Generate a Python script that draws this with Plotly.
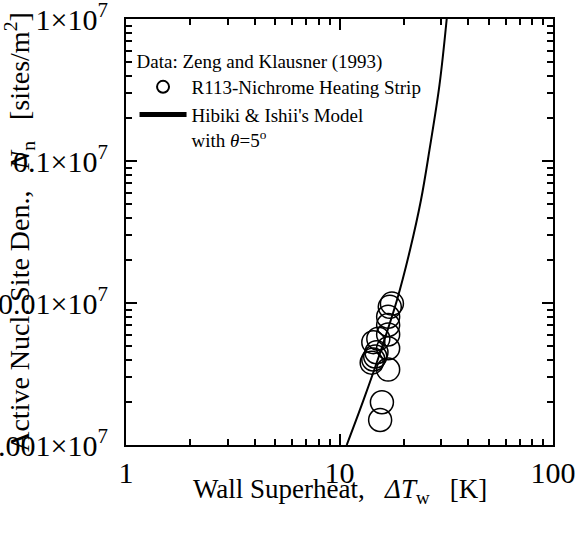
import plotly.graph_objects as go

# Measured active nucleation site density (Zeng & Klausner, 1993)
superheat_data = [15.5, 15.8, 16.9, 14.15, 14.4, 14.7, 14.9, 16.9, 14.4, 15.2,
                  16.9, 16.9, 16.9, 17.2, 17.6]
site_density_data = [1.5e4, 2.0e4, 3.4e4, 3.8e4, 4.0e4, 4.2e4, 4.5e4, 4.8e4, 5.3e4,
                     5.6e4, 6.0e4, 7.0e4, 8.0e4, 9.4e4, 9.9e4]

# Hibiki & Ishii model curve, theta = 5 deg
superheat_model = [10.81, 12.95, 15.65, 18.59, 21.39, 24.08, 26.39, 29.4, 31.78]
site_density_model = [1.0e4, 2.07e4, 4.67e4, 1.05e5, 2.36e5, 5.31e5, 1.196e6, 3.43e6, 1.0e7]

# minor ticks at 2..9 within each decade
x_minor = [m * 10 ** d for d in range(0, 2) for m in range(2, 10)]
y_minor = [m * 10 ** d for d in range(4, 7) for m in range(2, 10)]

X_RANGE = [0, 2.00001]
Y_RANGE = [3.99999, 7.00001]

SERIF = "Liberation Serif"
NB = "\u00a0"

fig = go.Figure()
fig.add_trace(go.Scatter(
    x=superheat_data, y=site_density_data, mode="markers",
    name="R113-Nichrome Heating Strip",
    marker=dict(symbol="circle-open", size=23, color="black", line=dict(width=1.5, color="black")),
))
fig.add_trace(go.Scatter(
    x=superheat_model, y=site_density_model, mode="lines",
    name="Hibiki & Ishii's Model<br>with <i>θ</i>=5<sup>o</sup>",
    line=dict(color="black", width=2, shape="spline"),
))
# empty trace that carries the opposite-side frame axes (major ticks mirrored back)
fig.add_trace(go.Scatter(x=[], y=[], xaxis="x2", yaxis="y2", showlegend=False, hoverinfo="skip"))

# decade ticks with plotly's own power-of-ten labels
frame = dict(
    type="log", showline=True, linecolor="black", linewidth=2, mirror="allticks",
    showgrid=False, zeroline=False, automargin=False,
    tickmode="linear", tick0=0, dtick=1, exponentformat="power", showexponent="all",
    ticks="inside", ticklen=11, tickwidth=2, tickcolor="black",
)
minor_ticks = dict(ticks="inside", ticklen=6, tickwidth=2, tickcolor="black",
                   tickmode="array", showgrid=False)

fig.update_layout(
    xaxis=dict(**frame, range=X_RANGE,
               ticklabeloverflow="allow",
               tickfont=dict(family=SERIF, size=30, color="black"),
               minor=dict(**minor_ticks, tickvals=x_minor)),
    yaxis=dict(**frame, range=Y_RANGE,
               ticklabeloverflow="allow", ticklabelstandoff=10,
               tickfont=dict(family=SERIF, size=30, color="black"),
               minor=dict(**minor_ticks, tickvals=y_minor),
               title=dict(text=f"Active Nucl. Site Den.,{NB*3}<i>N</i><sub>n</sub>{NB*3}[sites/m<sup>2</sup>]",
                          font=dict(family=SERIF, size=28, color="black"), standoff=40)),
    xaxis2=dict(**frame, range=X_RANGE, showticklabels=False,
                overlaying="x", side="top", anchor="y2"),
    yaxis2=dict(**frame, range=Y_RANGE, showticklabels=False,
                overlaying="y", side="right", anchor="x2"),
)

# x-axis title placed just under the tick labels
fig.add_annotation(
    text=f"Wall Superheat,{NB*3}<i>ΔT</i><sub>w</sub>{NB*3}[K]",
    xref="paper", yref="paper", x=0.5, y=-0.063, xanchor="center", yanchor="top",
    showarrow=False, font=dict(family=SERIF, size=27, color="black"),
)

fig.update_layout(
    width=588, height=534,
    margin=dict(l=126, r=35, t=19, b=89),
    plot_bgcolor="white", paper_bgcolor="white",
    showlegend=True,
    legend=dict(
        x=0.02, y=0.943, xanchor="left", yanchor="top",
        bgcolor="rgba(0,0,0,0)", borderwidth=0,
        font=dict(family=SERIF, size=19, color="black"),
        title=dict(text="Data: Zeng and Klausner (1993)", font=dict(family=SERIF, size=19, color="black")),
        itemsizing="constant", itemwidth=47, valign="top", tracegroupgap=0,
    ),
)

fig.write_html("out.html")
